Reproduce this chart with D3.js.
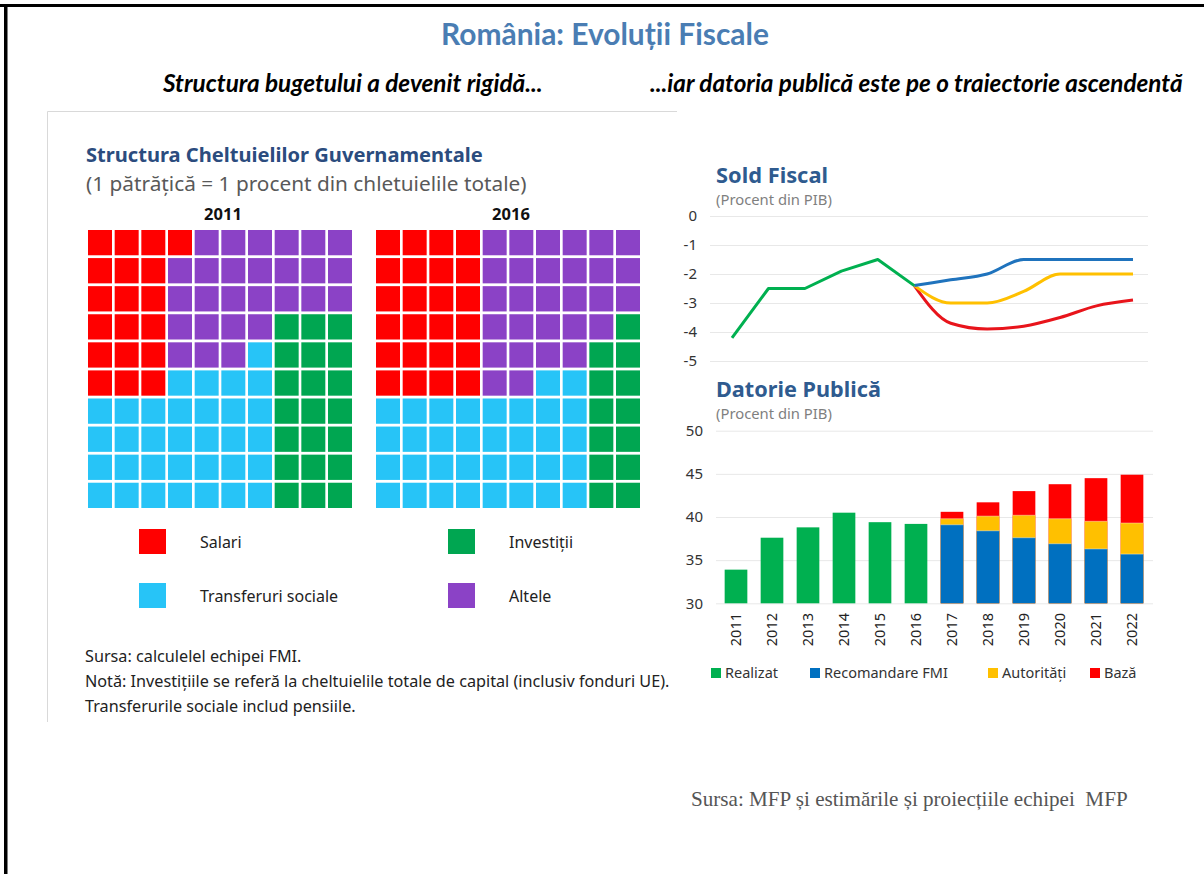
<!DOCTYPE html>
<html>
<head>
<meta charset="utf-8">
<script src="https://cdn.jsdelivr.net/npm/d3@7"></script>
<style>
	body { margin: 0; background: #fff; }
	svg { display: block; }
</style>
</head>
<body>
<div id="chart"></div>
<script>
// ---------- DATA ----------
const waffleCats = ["S", "T", "I", "A"];
const waffleLabels = ["Salari", "Transferuri sociale", "Investiții", "Altele"];
const waffleColors = ["#ff0000", "#27c4f7", "#00a651", "#8b42c6"];

// one letter per cell, row by row (1 cell = 1% of total spending)
const waffle2011 = [
	"SSSSAAAAAA",
	"SSSAAAAAAA",
	"SSSAAAAAAA",
	"SSSAAAAIII",
	"SSSAAATIII",
	"SSSTTTTIII",
	"TTTTTTTIII",
	"TTTTTTTIII",
	"TTTTTTTIII",
	"TTTTTTTIII",
];
const waffle2016 = [
	"SSSSAAAAAA",
	"SSSSAAAAAA",
	"SSSSAAAAAA",
	"SSSSAAAAAI",
	"SSSSAAAAII",
	"SSSSAATTII",
	"TTTTTTTTII",
	"TTTTTTTTII",
	"TTTTTTTTII",
	"TTTTTTTTII",
];

const years = [2011, 2012, 2013, 2014, 2015, 2016, 2017, 2018, 2019, 2020, 2021, 2022];
const yearsActual = [2011, 2012, 2013, 2014, 2015, 2016];
const yearsProjLine = [2016, 2017, 2018, 2019, 2020, 2021, 2022];
const yearsProjBar = [2017, 2018, 2019, 2020, 2021, 2022];

// Sold fiscal (% PIB)
const soldRealizat = [-4.2, -2.5, -2.5, -1.9, -1.5, -2.4];
const soldFMI = [-2.4, -2.2, -2.0, -1.5, -1.5, -1.5, -1.5];
const soldAutoritati = [-2.4, -3.0, -3.0, -2.6, -2.0, -2.0, -2.0];
const soldBaza = [-2.4, -3.7, -3.9, -3.8, -3.5, -3.1, -2.9];
const soldTicks = [0, -1, -2, -3, -4, -5];

// Datorie publica (% PIB)
const datorieRealizat = [33.9, 37.6, 38.8, 40.5, 39.4, 39.2];
const datorieFMI = [39.1, 38.4, 37.6, 36.9, 36.3, 35.7];
const datorieAutoritati = [39.8, 40.1, 40.2, 39.8, 39.5, 39.3];
const datorieBaza = [40.6, 41.7, 43.0, 43.8, 44.5, 44.9];
const datorieTicks = [30, 35, 40, 45, 50];

const seriesNames = ["Realizat", "Recomandare FMI", "Autorități", "Bază"];
const lineColors = ["#00b050", "#1f73bd", "#ffc000", "#e8141b"];
const barColors = ["#00b050", "#0070c0", "#ffc000", "#ff0000"];

// ---------- SETUP ----------
const width = 1204;
const height = 874;
const sans = "'Noto Sans', 'Open Sans', sans-serif";
const narrow = "Lato, 'Noto Sans', sans-serif";

const svg = d3
	.select("#chart")
	.append("svg")
	.attr("width", width)
	.attr("height", height);

// scale a text so it spans a given width
function fit(sel, w) {
	const cur = sel.node().getComputedTextLength();
	const fs = parseFloat(sel.attr("font-size"));
	sel.attr("font-size", (fs * w) / cur);
	return sel;
}

// frame
svg.append("rect").attr("x", 0).attr("y", 4).attr("width", width).attr("height", 3).attr("fill", "#000");
svg.append("rect").attr("x", 4).attr("y", 4).attr("width", 3.5).attr("height", height).attr("fill", "#000");

// headers
fit(
	svg.append("text")
		.attr("x", 605).attr("y", 45)
		.attr("text-anchor", "middle")
		.attr("font-family", narrow).attr("font-weight", 700).attr("font-size", 24)
		.attr("fill", "#4a7db3")
		.text("România: Evoluții Fiscale"),
	328
);
fit(
	svg.append("text")
		.attr("x", 163).attr("y", 92)
		.attr("font-family", narrow).attr("font-weight", 700).attr("font-style", "italic").attr("font-size", 18)
		.attr("fill", "#000")
		.text("Structura bugetului a devenit rigidă..."),
	380
);
fit(
	svg.append("text")
		.attr("x", 650).attr("y", 92)
		.attr("font-family", narrow).attr("font-weight", 700).attr("font-style", "italic").attr("font-size", 18)
		.attr("fill", "#000")
		.text("...iar datoria publică este pe o traiectorie ascendentă"),
	533
);

// ---------- LEFT PANEL: WAFFLES ----------
const leftG = svg.append("g");
leftG.append("path")
	.attr("d", "M47.5,722 V111.5 H677")
	.attr("fill", "none")
	.attr("stroke", "#d9d9d9")
	.attr("stroke-width", 1);

fit(
	leftG.append("text")
		.attr("x", 86).attr("y", 162)
		.attr("font-family", sans).attr("font-weight", 700).attr("font-size", 19)
		.attr("fill", "#2b4c7e")
		.text("Structura Cheltuielilor Guvernamentale"),
	397
);
fit(
	leftG.append("text")
		.attr("x", 86).attr("y", 191)
		.attr("font-family", sans).attr("font-size", 18)
		.attr("fill", "#595959")
		.text("(1 pătrățică = 1 procent din chletuielile totale)"),
	441
);

const waffleColor = d3.scaleOrdinal().domain(waffleCats).range(waffleColors);
const idx = d3.range(10);

function drawWaffle(grid, label, x0) {
	const xScale = d3.scaleBand().domain(idx).range([x0, x0 + 264]).paddingInner(0.1);
	const yScale = d3.scaleBand().domain(idx).range([230, 508]).paddingInner(0.1);
	const cells = [];
	grid.forEach((row, r) => {
		row.split("").forEach((c, col) => cells.push({ r, col, c }));
	});
	const g = leftG.append("g");
	g.selectAll("rect")
		.data(cells)
		.join("rect")
		.attr("x", (d) => xScale(d.col))
		.attr("y", (d) => yScale(d.r))
		.attr("width", xScale.bandwidth())
		.attr("height", yScale.bandwidth())
		.attr("fill", (d) => waffleColor(d.c));
	g.append("text")
		.attr("x", x0 + 135).attr("y", 220)
		.attr("text-anchor", "middle")
		.attr("font-family", sans).attr("font-weight", 700).attr("font-size", 16.5)
		.attr("fill", "#111")
		.text(label);
}
drawWaffle(waffle2011, "2011", 88);
drawWaffle(waffle2016, "2016", 376);

// waffle legend (2 x 2)
const legendPos = { S: [139, 529], T: [139, 583], I: [448, 529], A: [448, 583] };
waffleCats.forEach((c, i) => {
	const [lx, ly] = legendPos[c];
	leftG.append("rect")
		.attr("x", lx).attr("y", ly)
		.attr("width", 27).attr("height", 25)
		.attr("fill", waffleColor(c));
	leftG.append("text")
		.attr("x", lx + 61).attr("y", ly + 19)
		.attr("font-family", sans).attr("font-size", 16)
		.attr("fill", "#222")
		.text(waffleLabels[i]);
});

const notes = [
	"Sursa: calculelel echipei FMI.",
	"Notă: Investițiile se referă la cheltuielile totale de capital (inclusiv fonduri UE).",
	"Transferurile sociale includ pensiile.",
];
const noteText = leftG.selectAll(".note")
	.data(notes)
	.join("text")
	.classed("note", true)
	.attr("x", 85)
	.attr("y", (d, i) => 662 + i * 25)
	.attr("font-family", sans).attr("font-size", 14)
	.attr("fill", "#222")
	.text((d) => d);
fit(d3.select(noteText.nodes()[1]), 585);
noteText.attr("font-size", d3.select(noteText.nodes()[1]).attr("font-size"));

// ---------- RIGHT TOP: SOLD FISCAL ----------
const lineG = svg.append("g");
fit(
	lineG.append("text")
		.attr("x", 716).attr("y", 183)
		.attr("font-family", sans).attr("font-weight", 700).attr("font-size", 20)
		.attr("fill", "#2f5b8f")
		.text("Sold Fiscal"),
	112
);
fit(
	lineG.append("text")
		.attr("x", 716).attr("y", 205)
		.attr("font-family", sans).attr("font-size", 13)
		.attr("fill", "#7f7f7f")
		.text("(Procent din PIB)"),
	116
);

const xLine = d3.scalePoint().domain(years).range([732, 1133]);
const yLine = d3.scaleLinear().domain([-5, 0]).range([361, 216]);

lineG.append("g")
	.attr("transform", "translate(710,0)")
	.call(d3.axisLeft(yLine).tickValues(soldTicks).tickSize(-438).tickFormat((d) => String(d)))
	.call((g) => g.select(".domain").remove())
	.call((g) => g.selectAll(".tick line").attr("stroke", "#e8e8e8"))
	.call((g) => g.selectAll(".tick text")
		.attr("x", -13)
		.attr("font-family", sans).attr("font-size", 15)
		.attr("fill", "#333"));

const lineStraight = d3.line()
	.x((d) => xLine(d[0]))
	.y((d) => yLine(d[1]));
const lineSmooth = d3.line()
	.x((d) => xLine(d[0]))
	.y((d) => yLine(d[1]))
	.curve(d3.curveMonotoneX);

const lineSeries = [
	{ name: "Bază", years: yearsProjLine, values: soldBaza, color: lineColors[3], gen: lineSmooth },
	{ name: "Autorități", years: yearsProjLine, values: soldAutoritati, color: lineColors[2], gen: lineSmooth },
	{ name: "Recomandare FMI", years: yearsProjLine, values: soldFMI, color: lineColors[1], gen: lineSmooth },
	{ name: "Realizat", years: yearsActual, values: soldRealizat, color: lineColors[0], gen: lineStraight },
];
lineG.selectAll(".series")
	.data(lineSeries)
	.join("path")
	.classed("series", true)
	.attr("d", (s) => s.gen(s.years.map((y, i) => [y, s.values[i]])))
	.attr("fill", "none")
	.attr("stroke", (s) => s.color)
	.attr("stroke-width", 3)
	.attr("stroke-linejoin", "round");

// ---------- RIGHT BOTTOM: DATORIE PUBLICA ----------
const barG = svg.append("g");
fit(
	barG.append("text")
		.attr("x", 716).attr("y", 397)
		.attr("font-family", sans).attr("font-weight", 700).attr("font-size", 20)
		.attr("fill", "#2f5b8f")
		.text("Datorie Publică"),
	165
);
fit(
	barG.append("text")
		.attr("x", 716).attr("y", 419)
		.attr("font-family", sans).attr("font-size", 13)
		.attr("fill", "#7f7f7f")
		.text("(Procent din PIB)"),
	116
);

const xBar = d3.scaleBand().domain(years).range([718, 1150]).paddingInner(0.37).paddingOuter(0.185);
const yBar = d3.scaleLinear().domain([30, 50]).range([603.3, 430.7]);

barG.append("g")
	.attr("transform", "translate(716,0)")
	.call(d3.axisLeft(yBar).tickValues(datorieTicks).tickSize(-437).tickFormat((d) => String(d)))
	.call((g) => g.select(".domain").remove())
	.call((g) => g.selectAll(".tick line").attr("stroke", "#e8e8e8"))
	.call((g) => g.selectAll(".tick text")
		.attr("x", -13)
		.attr("font-family", sans).attr("font-size", 15)
		.attr("fill", "#333"));

// projections drawn as levels: red behind yellow behind blue
const barSeries = [
	{ years: yearsActual, values: datorieRealizat, color: barColors[0] },
	{ years: yearsProjBar, values: datorieBaza, color: barColors[3] },
	{ years: yearsProjBar, values: datorieAutoritati, color: barColors[2] },
	{ years: yearsProjBar, values: datorieFMI, color: barColors[1] },
];
barSeries.forEach((s) => {
	barG.append("g")
		.selectAll("rect")
		.data(s.years.map((y, i) => ({ year: y, value: s.values[i] })))
		.join("rect")
		.attr("x", (d) => xBar(d.year))
		.attr("y", (d) => yBar(d.value))
		.attr("width", xBar.bandwidth())
		.attr("height", (d) => yBar(30) - yBar(d.value))
		.attr("fill", s.color);
});

// thin seams between stacked segments
barG.append("g")
	.selectAll("line")
	.data(yearsProjBar.flatMap((y, i) => [
		{ year: y, value: datorieFMI[i] },
		{ year: y, value: datorieAutoritati[i] },
	]))
	.join("line")
	.attr("x1", (d) => xBar(d.year))
	.attr("x2", (d) => xBar(d.year) + xBar.bandwidth())
	.attr("y1", (d) => yBar(d.value))
	.attr("y2", (d) => yBar(d.value))
	.attr("stroke", "#fff")
	.attr("stroke-opacity", 0.5)
	.attr("stroke-width", 0.8);

// rotated year labels
barG.append("g")
	.attr("transform", "translate(0,610)")
	.call(d3.axisBottom(xBar).tickSize(0).tickPadding(0))
	.call((g) => g.select(".domain").remove())
	.call((g) => g.selectAll(".tick text")
		.attr("transform", "rotate(-90)")
		.attr("text-anchor", "end")
		.attr("x", -3)
		.attr("y", 0)
		.attr("dy", "0.35em")
		.attr("font-family", sans).attr("font-size", 14.5)
		.attr("fill", "#222"));

// legend
const legendX = [711, 810, 988, 1090];
seriesNames.forEach((name, i) => {
	barG.append("rect")
		.attr("x", legendX[i]).attr("y", 668)
		.attr("width", 10).attr("height", 10)
		.attr("fill", barColors[i]);
	barG.append("text")
		.attr("x", legendX[i] + 14).attr("y", 678)
		.attr("font-family", sans).attr("font-size", 14.5)
		.attr("fill", "#333")
		.text(name);
});

// source
fit(
	svg.append("text")
		.attr("x", 691).attr("y", 806)
		.attr("font-family", "'Liberation Serif', 'DejaVu Serif', serif").attr("font-size", 16)
		.attr("fill", "#555")
		.style("white-space", "pre")
		.text("Sursa: MFP și estimările și proiecțiile echipei  MFP"),
	437
);
</script>
</body>
</html>
